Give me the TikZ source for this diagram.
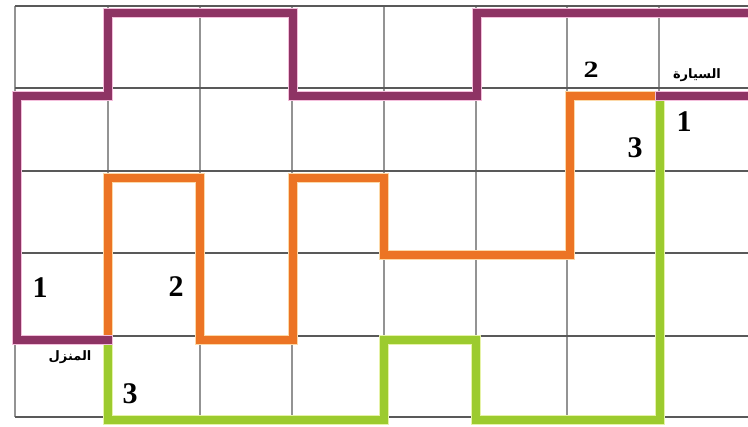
\documentclass[tikz,border=0pt]{standalone}
\usepackage{fontspec}
\setmainfont{Liberation Serif}
\newfontfamily\arabicfont[Script=Arabic]{DejaVu Sans}
\TeXXeTstate=1
\definecolor{pur}{HTML}{8E3464}
\definecolor{purl}{HTML}{F4BEDC}
\definecolor{org}{HTML}{EC7424}
\definecolor{orgl}{HTML}{FCD9A8}
\definecolor{grn}{HTML}{9CCB2E}
\definecolor{grnl}{HTML}{E6F3A8}
\begin{document}
\begin{tikzpicture}[x=1pt,y=-1pt,
  gridv/.style={draw=gray!85, line width=1.4pt},
  gridh/.style={draw=black!65, line width=1.4pt},
  routeout/.style={line width=10.5pt, line join=miter, line cap=rect},
  routein/.style={line width=7.5pt, line join=miter, line cap=rect},
  num/.style={font=\bfseries\fontsize{30}{30}\selectfont, inner sep=0pt},
  lbl/.style={font=\arabicfont\bfseries\fontsize{13}{13}\selectfont, inner sep=0pt}]
\useasboundingbox (0,0) rectangle (748,427);
\clip (0,0) rectangle (748,427);
\fill[white] (0,0) rectangle (748,427);
% grid
\foreach \x in {15,108,200,292,384,476,567,659} \draw[gridv] (\x,6) -- (\x,417);
\foreach \y in {6,88,171,253,336,417} \draw[gridh] (15,\y) -- (748,\y);
% end points
\coordinate (car) at (660,96);
\coordinate (home) at (108,340);
\coordinate (e1) at (760,96);
\coordinate (e2) at (760,13);
% green route (3)
\draw[routeout, grnl] (car) -- (660,420) -- (476,420) -- (476,340) -- (384,340) -- (384,420) -- (108,420) -- (home);
\draw[routein, grn] (car) -- (660,420) -- (476,420) -- (476,340) -- (384,340) -- (384,420) -- (108,420) -- (home);
% orange route (2)
\draw[routeout, orgl] (car) -- (570,96) -- (570,255) -- (384,255) -- (384,178) -- (293,178) -- (293,340) -- (200,340) -- (200,178) -- (108,178) -- (home);
\draw[routein, org] (car) -- (570,96) -- (570,255) -- (384,255) -- (384,178) -- (293,178) -- (293,340) -- (200,340) -- (200,178) -- (108,178) -- (home);
% purple route (1)
\draw[routeout, purl] (car) -- (e1);
\draw[routein, pur] (car) -- (e1);
\draw[routeout, purl] (e2) -- (477,13) -- (477,96) -- (293,96) -- (293,13) -- (108,13) -- (108,96) -- (17,96) -- (17,340) -- (home);
\draw[routein, pur] (e2) -- (477,13) -- (477,96) -- (293,96) -- (293,13) -- (108,13) -- (108,96) -- (17,96) -- (17,340) -- (home);
% labels
\node[num] (n2a) at (591,70) {\scalebox{1}[0.78]{2}};
\node[lbl] (carlabel) at (697,75) {\beginR السيارة\endR};
\node[num] (n1a) at (684,122) {1};
\node[num] (n3a) at (635,148) {3};
\node[num] (n1b) at (40,288) {1};
\node[num] (n2b) at (176,287) {2};
\node[lbl] (homelabel) at (70,357) {\beginR المنزل\endR};
\node[num] (n3b) at (130,394) {3};
\end{tikzpicture}
\end{document}
